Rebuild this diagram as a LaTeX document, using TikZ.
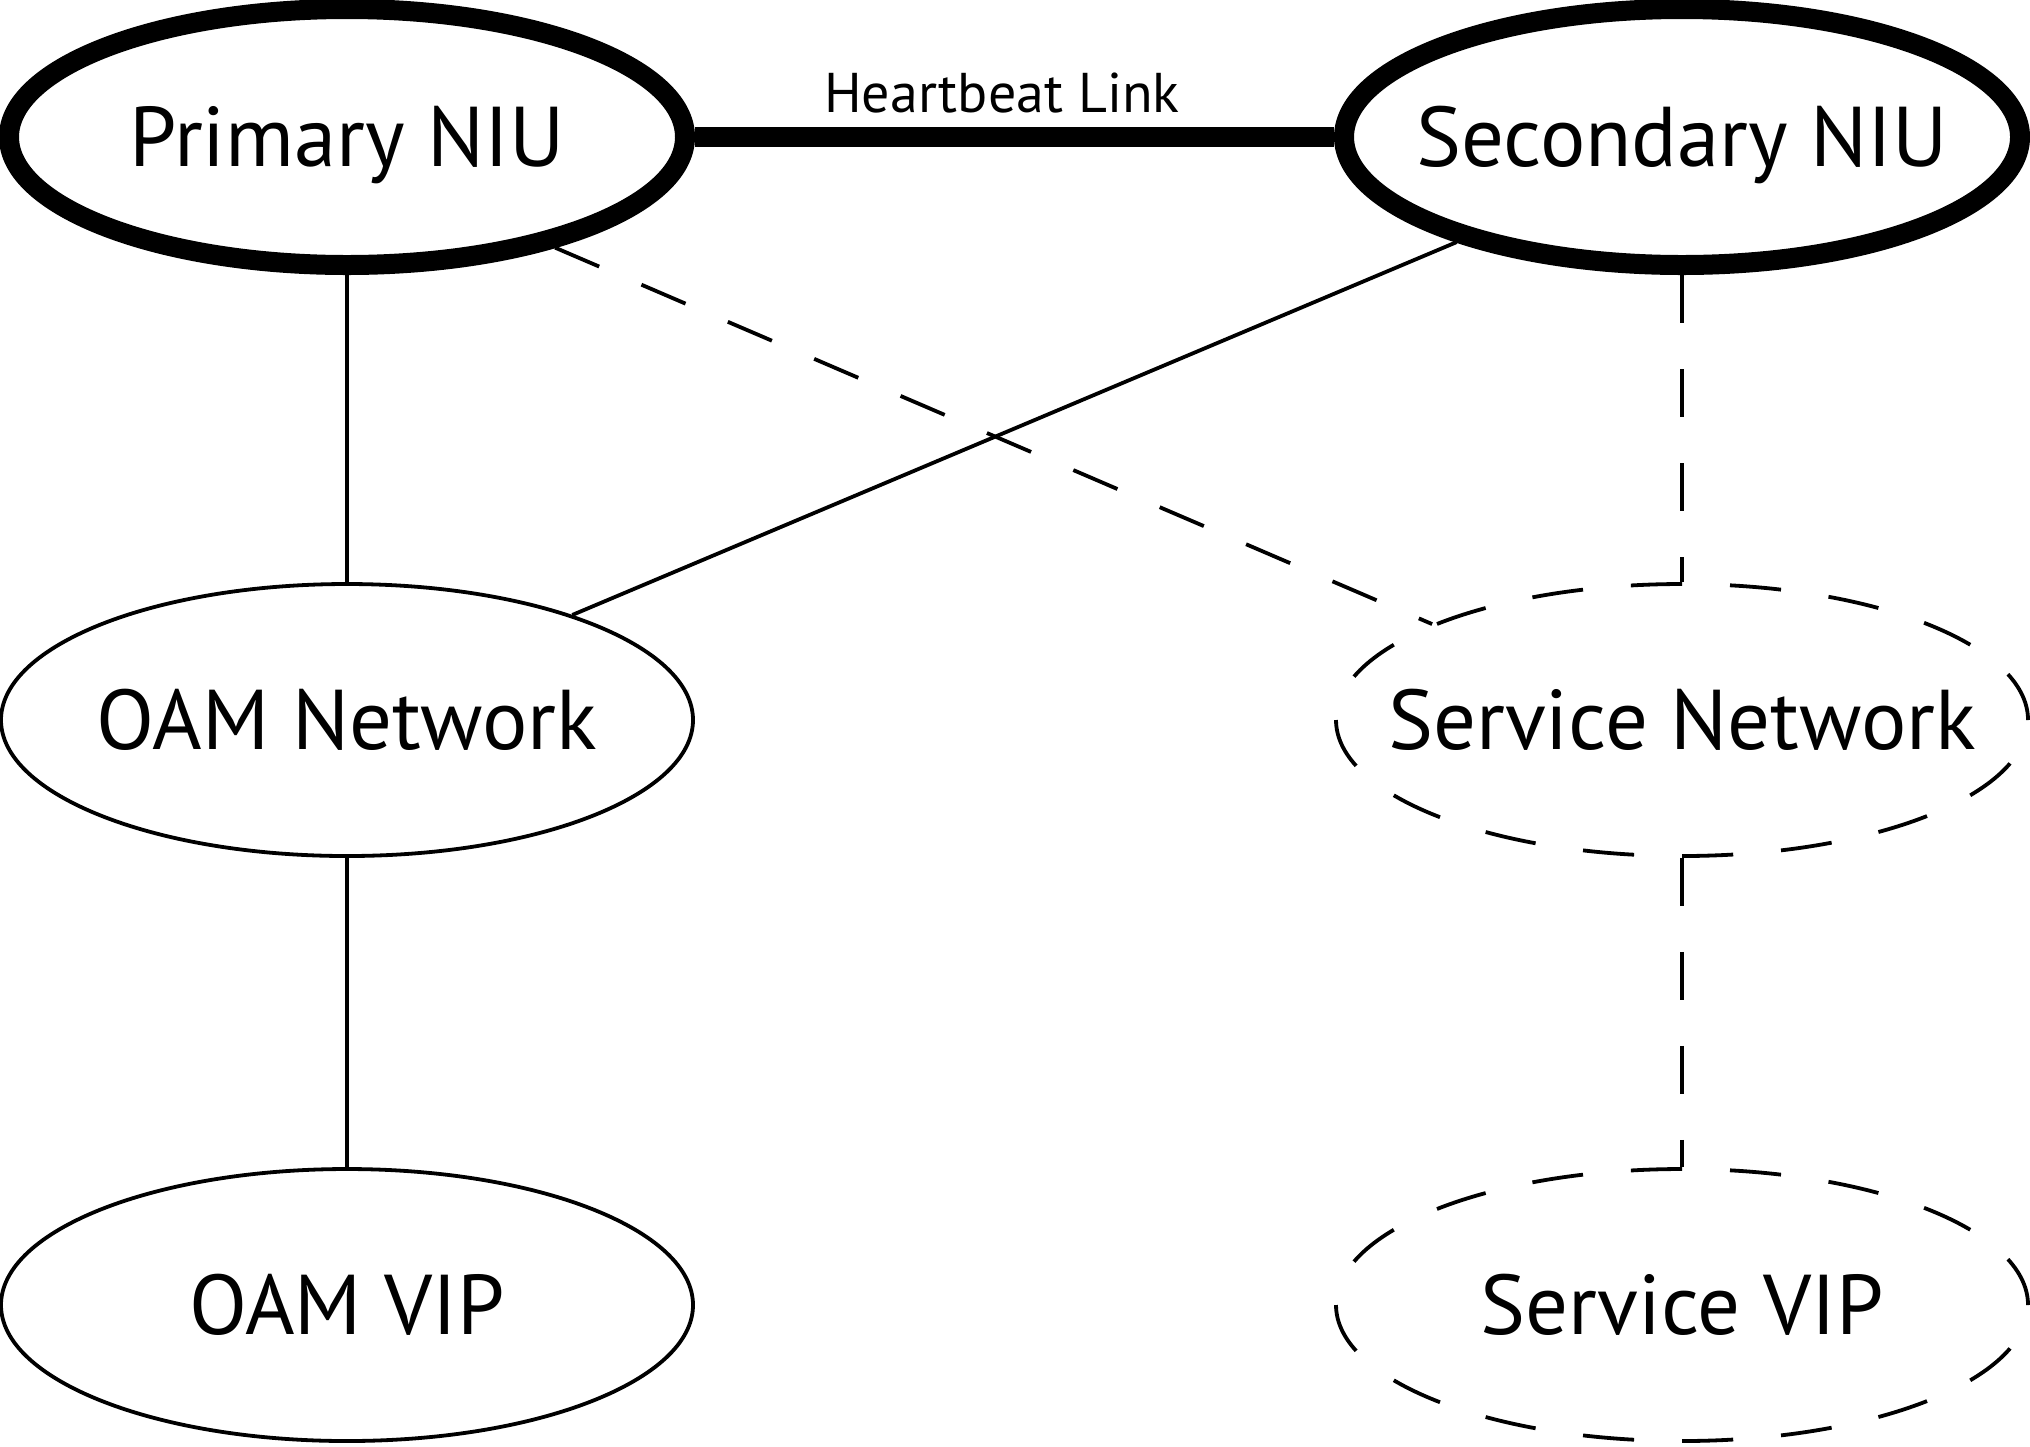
\documentclass[tikz,border=0pt]{standalone}
\usepackage{fontspec}
\setmainfont{PT Sans}
\usetikzlibrary{shapes.geometric}

\begin{document}
\begin{tikzpicture}[x=0.25pt,y=0.25pt,yscale=-1,xscale=1,
	lbl/.style={inner xsep=-40pt,inner ysep=0pt,text height=14.7pt,text depth=0pt,font=\fontsize{21.2}{25}\selectfont},
	niu/.style={ellipse,draw,line width=5pt,minimum width=169pt,minimum height=64pt,lbl},
	net/.style={ellipse,draw,line width=0.95pt,minimum width=173pt,minimum height=68pt,lbl},
	dashnet/.style={net,dash pattern=on 12.8pt off 12pt},
	dashlink/.style={line width=0.95pt,dash pattern=on 12pt off 11.5pt}]
		\useasboundingbox (0,0) rectangle (2030,1446);
		% nodes
		\node [niu] (prim) at (347,137) {Primary NIU};
		\node [niu] (sec) at (1682,137) {Secondary NIU};
		\node [net] (oamnet) at (347,720) {OAM Network};
		\node [dashnet] (svcnet) at (1682,720) {Service Network};
		\node [net] (oamvip) at (347,1305) {OAM VIP};
		\node [dashnet] (svcvip) at (1682,1305) {Service VIP};
		% links
		\draw [line width=5.2pt] (prim) -- (sec);
		\node [inner sep=0pt,font=\fontsize{14}{16}\selectfont] (hblabel) at (1002,93) {Heartbeat Link};
		\draw [line width=0.95pt] (prim) -- (oamnet);
		\draw [line width=0.95pt] (oamnet) -- (oamvip);
		\draw [line width=0.95pt] (sec.205) -- (oamnet.25);
		\draw [dashlink] (prim.-28) -- (svcnet.159);
		\draw [dashlink] (sec) -- (svcnet);
		\draw [dashlink] (svcnet) -- (svcvip);
\end{tikzpicture}
\end{document}
